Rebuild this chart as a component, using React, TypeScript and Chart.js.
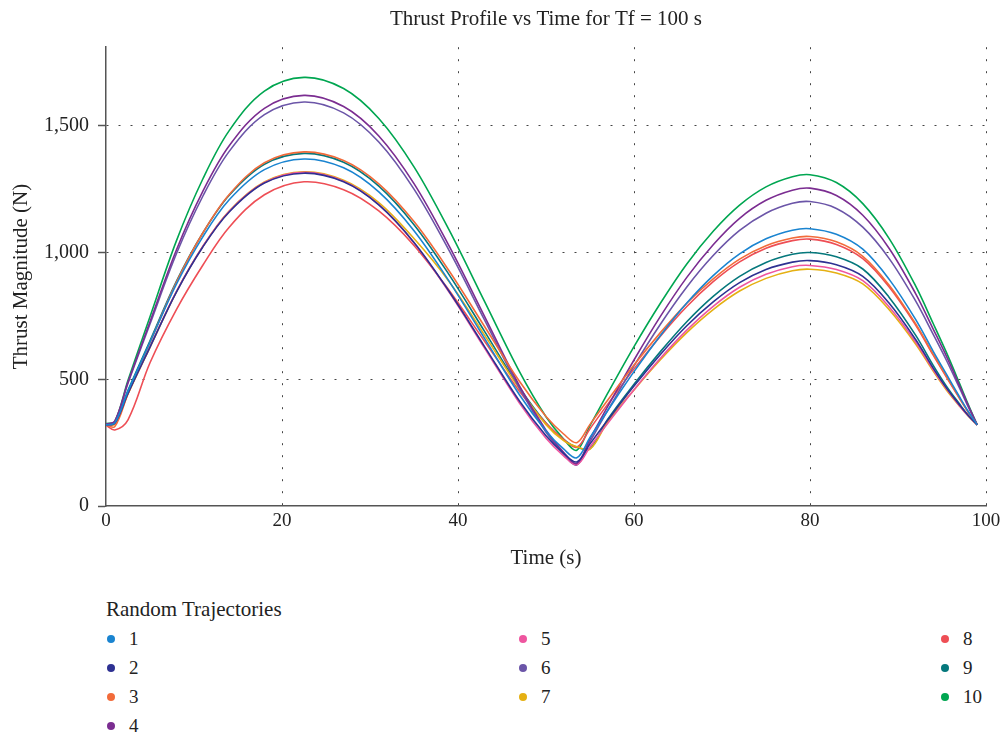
import React, { useEffect, useRef } from "react";
import { Chart, registerables } from "chart.js";
Chart.register(...registerables);

const times = [0, 1, 2.5, 5, 8, 11, 14, 18, 22.5, 27, 31, 35, 39, 43, 47, 50, 52, 53.5, 55, 57, 60, 63, 66, 69, 72, 75, 78, 80, 83, 86, 89, 92, 94, 95.5, 97, 98, 99];

const traj1 = [320, 328, 453, 646, 875, 1062, 1208, 1327, 1369, 1334, 1239, 1086, 886, 662, 438, 296, 225, 190, 270, 376, 530, 673, 801, 909, 995, 1054, 1088, 1094, 1072, 1013, 894, 736, 610, 520, 430, 372, 320];
const traj2 = [320, 326, 444, 627, 844, 1022, 1160, 1274, 1313, 1279, 1188, 1040, 846, 630, 413, 277, 208, 174, 245, 338, 473, 598, 711, 805, 881, 933, 962, 968, 952, 906, 800, 657, 544, 466, 398, 356, 320];
const traj3 = [320, 313, 443, 644, 882, 1077, 1229, 1354, 1397, 1363, 1271, 1122, 927, 709, 491, 353, 284, 250, 322, 417, 556, 684, 800, 896, 974, 1027, 1057, 1063, 1042, 985, 871, 719, 599, 512, 426, 370, 320];
const traj4 = [322, 335, 489, 727, 1010, 1241, 1421, 1569, 1620, 1576, 1460, 1272, 1025, 749, 473, 299, 212, 168, 265, 392, 576, 748, 902, 1031, 1135, 1206, 1246, 1254, 1225, 1147, 1016, 838, 698, 591, 474, 395, 320];
const traj5 = [320, 326, 445, 628, 846, 1024, 1163, 1276, 1316, 1281, 1189, 1039, 843, 624, 405, 267, 198, 163, 233, 325, 459, 583, 694, 788, 863, 914, 944, 949, 933, 889, 785, 647, 537, 462, 395, 355, 320];
const traj6 = [322, 333, 484, 718, 995, 1222, 1399, 1544, 1594, 1551, 1436, 1250, 1007, 735, 463, 291, 205, 162, 254, 376, 553, 717, 864, 988, 1087, 1155, 1194, 1201, 1174, 1100, 976, 809, 677, 575, 465, 390, 320];
const traj7 = [320, 322, 442, 626, 845, 1024, 1164, 1278, 1318, 1285, 1197, 1055, 885, 675, 462, 321, 258, 234, 224, 331, 458, 577, 684, 775, 848, 898, 928, 934, 919, 876, 774, 639, 532, 458, 394, 354, 320];
const traj8 = [318, 300, 340, 565, 775, 950, 1100, 1228, 1279, 1248, 1164, 1028, 850, 651, 452, 326, 263, 232, 305, 401, 541, 670, 787, 885, 963, 1017, 1047, 1053, 1032, 976, 864, 714, 595, 509, 424, 369, 320];
const traj9 = [320, 328, 456, 652, 886, 1077, 1226, 1348, 1391, 1356, 1262, 1110, 912, 690, 467, 327, 262, 232, 226, 341, 480, 609, 727, 827, 906, 961, 993, 1000, 983, 935, 823, 674, 555, 473, 402, 357, 320];
const traj10 = [325, 333, 496, 747, 1046, 1290, 1481, 1637, 1691, 1647, 1529, 1338, 1088, 808, 529, 352, 264, 220, 317, 444, 629, 800, 955, 1084, 1187, 1259, 1299, 1307, 1276, 1193, 1055, 868, 720, 606, 483, 399, 320];

const seriesNames = ["1", "2", "3", "4", "5", "6", "7", "8", "9", "10"];
const seriesValues = [traj1, traj2, traj3, traj4, traj5, traj6, traj7, traj8, traj9, traj10];
const colors = ["#1a84d0", "#2e3192", "#f26b3a", "#7b2d91", "#ee559f", "#6b55a8", "#e5b013", "#ee4e55", "#05787c", "#00a651"];

const xTicks = [0, 20, 40, 60, 80, 100];
const yTicks = [0, 500, 1000, 1500];

const titleText = "Thrust Profile vs Time for Tf = 100 s";
const xTitle = "Time (s)";
const yTitle = "Thrust Magnitude (N)";
const legendTitle = "Random Trajectories";

const FONT = "'Liberation Serif', 'Times New Roman', serif";
const TEXT = "#222";

// legend layout (columns of items)
const legendColumns = [[0, 1, 2, 3], [4, 5, 6], [7, 8, 9]];
const legendColX = [111, 523, 945];

export default function App() {
  const ref = useRef<HTMLCanvasElement | null>(null);

  useEffect(() => {
    if (!ref.current) return;
    const chart = new Chart(ref.current, {
      type: "line",
      data: {
        datasets: seriesValues.map((vals, i) => ({
          label: seriesNames[i],
          data: vals.map((v, j) => ({ x: times[j], y: v })),
          borderColor: colors[i],
          backgroundColor: colors[i],
          borderWidth: 1.6,
          pointRadius: 0,
          fill: false,
          tension: 0.35,
        })),
      },
      options: {
        animation: false,
        responsive: false,
        devicePixelRatio: 1,
        layout: { padding: { left: 0, right: 19, top: 0, bottom: 0 } },
        plugins: {
          legend: { display: false },
          tooltip: { enabled: false },
          title: {
            display: true,
            text: titleText,
            fullSize: false,
            color: TEXT,
            font: { family: FONT, size: 21, weight: "normal" },
            padding: { top: 7, bottom: 15 },
          },
        },
        scales: {
          x: {
            type: "linear",
            min: 0,
            max: 100,
            afterBuildTicks: (s: any) => {
              s.ticks = xTicks.map((v) => ({ value: v }));
            },
            afterFit: (s: any) => {
              s.height = 84;
            },
            ticks: {
              color: TEXT,
              font: { family: FONT, size: 19 },
              padding: 4,
              maxRotation: 0,
              autoSkip: false,
            },
            grid: {
              color: (ctx: any) => (ctx.tick && ctx.tick.value === 0 ? "rgba(0,0,0,0)" : "#444"),
              lineWidth: 1,
              drawTicks: false,
            },
            border: { display: true, color: "#555", width: 1.5, dash: [2, 10] },
            title: {
              display: true,
              text: xTitle,
              color: TEXT,
              font: { family: FONT, size: 21 },
              padding: { top: 0, bottom: 19 },
            },
          },
          y: {
            type: "linear",
            min: 0,
            max: 1810,
            afterBuildTicks: (s: any) => {
              s.ticks = yTicks.map((v) => ({ value: v }));
            },
            afterFit: (s: any) => {
              s.width = 106;
            },
            ticks: {
              color: TEXT,
              font: { family: FONT, size: 20 },
              padding: 9,
              callback: (v: any) => Number(v).toLocaleString("en-US"),
            },
            grid: {
              color: (ctx: any) => (ctx.tick && ctx.tick.value === 0 ? "rgba(0,0,0,0)" : "#444"),
              lineWidth: 1,
              drawTicks: true,
              tickLength: 8,
              tickColor: "#555",
              tickWidth: 1.5,
            },
            border: { display: true, color: "#555", width: 1.5, dash: [2, 10] },
            title: {
              display: true,
              text: yTitle,
              color: TEXT,
              font: { family: FONT, size: 21 },
              padding: { top: 9, bottom: 0 },
            },
          },
        },
      },
    });
    return () => chart.destroy();
  }, []);

  return (
    <div style={{ position: "absolute", left: 0, top: 0, width: 1005, height: 737, overflow: "hidden", background: "#fff", fontFamily: FONT, color: TEXT }}>
      <canvas ref={ref} width={1005} height={590} style={{ position: "absolute", left: 0, top: 0, width: 1005, height: 590 }} />
      <div style={{ position: "absolute", left: 106, top: 609 - 12, height: 24, lineHeight: "24px", fontSize: 21 }}>{legendTitle}</div>
      {legendColumns.map((col, ci) =>
        col.map((si, ri) => (
          <div
            key={si}
            style={{ position: "absolute", left: legendColX[ci] - 4, top: 639 + 29 * ri - 12, height: 24, display: "flex", alignItems: "center", fontSize: 19 }}
          >
            <span style={{ display: "inline-block", width: 8, height: 8, borderRadius: "50%", background: colors[si] }} />
            <span style={{ marginLeft: 14, lineHeight: "24px" }}>{seriesNames[si]}</span>
          </div>
        ))
      )}
    </div>
  );
}
